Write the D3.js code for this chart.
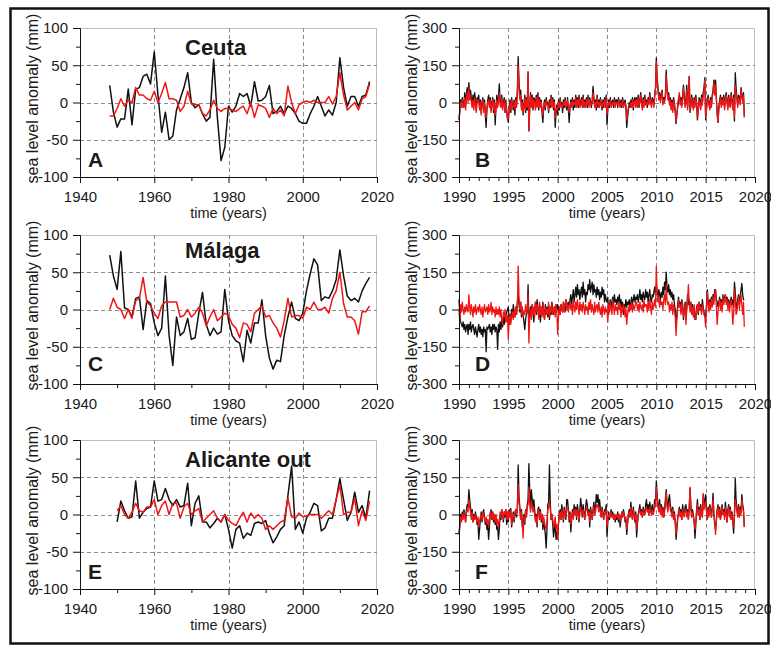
<!DOCTYPE html>
<html>
<head>
<meta charset="utf-8">
<script src="https://cdn.jsdelivr.net/npm/d3@7"></script>
<style>
body { margin: 0; background: #fff; }
svg text { font-family: "Liberation Sans", Arial, sans-serif; fill: #1a1a1a; }
</style>
</head>
<body>
<script>
// ---- annual anomalies (mm), black = observed, red = model ----
var ceutaStart = 1948, malagaStart = 1948, alicanteStart = 1950;

var ceutaAnnualBlack = [
	23, -13, -33, -22, -22, 18, -30, 18, 20, 35, 38, 25,
	68, 10, -40, -13, -50, -45, -10, 5, 20, 40,
	0, -7, -3, -15, -25, -20, 58, -20, -78, -60,
	-5, -13, -5, 12, 8, 12, -5, 28, 2, 3,
	8, 23, -15, -12, -5, -15, -5, -8, -15, -25,
	-28, -28, -15, -5, 8, -5, -18, -10, -17, 0,
	60, 20, -5, 8, 8, -5, 8, 10, 28
];
var ceutaAnnualRed = [
	-18, -18, -8, 5, -5, 3, 0, 20, 10, 10, 5, 3,
	15, 0, 12, 27, 5, 5, 3, -12, -5, 15,
	-2, -3, -3, -15, -18, -10, 3, -8, -12, -8,
	-8, -10, -12, -8, -5, -15, 0, -20, -3, -5,
	-8, -20, -8, -15, -10, -18, 22, 0, -15, -3,
	0, 2, 0, 3, 0, 0, 0, 8, -2, 8,
	40, 10, -10, -5, 0, -10, 5, 8, 25
];
var malagaAnnualBlack = [
	73, 45, 27, 78, 2, 0, -10, 15, 17, -27, 12, 8,
	-18, -35, -25, 45, -35, -75, -10, -35, -30, -12,
	-40, -38, -5, 23, -20, -35, -25, -33, -30, 27,
	-15, -35, -42, -45, -70, -28, -45, -18, -18, 13,
	-35, -65, -80, -68, -70, -35, -10, 10, -12, -15,
	-5, 25, 48, 68, 60, 12, 17, 15, 25, 40,
	80, 45, 18, 12, 15, 10, 25, 35, 43
];
var malagaAnnualRed = [
	0, 15, 3, 0, -12, 0, -12, 12, 15, 43, 10, 5,
	-5, -12, 5, 10, 10, 10, 10, -10, -8, 0,
	-10, -5, 3, -5, -22, -10, 0, -15, -10, -5,
	-8, -20, -25, -38, -18, -20, -30, -5, 0, 5,
	-10, -8, -18, -25, -37, -15, 15, -10, -8, -8,
	-12, 3, 0, 10, 0, 0, 3, -5, 15, 25,
	50, 8, -10, -10, -15, -33, -3, -3, 5
];
var alicanteAnnualBlack = [
	-10, 18, 5, -5, -3, 45, -5, 3, 8, 10,
	45, 18, 20, 35, 20, 12, 20, 10, 12, 42,
	-15, 15, 25, -10, -10, -18, -12, -5, -10, 0,
	-20, -45, -20, -15, -32, -25, -28, -12, -10, -12,
	-8, -25, -38, -30, -20, -15, 25, 65, -20, -10,
	-25, -5, 3, 15, 12, -22, -18, -5, -5, 20,
	48, 20, -8, 3, 30, 3, 12, -5, 32
];
var alicanteAnnualRed = [
	5, 12, 0, -5, 3, 15, 5, 3, 10, 10,
	20, 0, 12, 18, 0, 15, 15, -5, 10, 15,
	0, 5, 8, -10, -5, 0, 5, -5, -10, 0,
	-8, -12, -15, -5, 3, -10, 2, -5, 0, -5,
	-20, -15, -20, -15, -10, -8, 22, -3, -5, 2,
	-3, -2, 0, 0, 0, -5, 0, 5, 0, 20,
	40, 0, 3, 3, 22, -15, 5, -8, 18
];

// ---- monthly anomalies (mm), Jan 1990 .. Dec 2018, one row per year ----
var monthlyStart = 1990;

var ceutaMonthlyBlack = [
	-70,-30,10,-10,20,-20,0,40,-10,30,60,20,
	80,30,50,20,-10,30,0,40,10,-30,20,10,
	30,-20,10,-40,0,20,-30,10,-50,-100,-20,10,
	30,-10,20,-30,0,20,-40,10,-90,-20,30,-10,
	20,75,10,-10,30,-20,0,20,-40,10,-30,-60,
	-80,-20,10,-40,20,-10,-30,10,-50,20,-10,50,
	185,80,20,50,-20,10,-50,-10,30,-40,20,-30,
	120,-115,-20,40,-10,30,-30,20,10,-20,30,-10,
	40,-30,20,-10,10,-40,-80,-20,10,-30,20,0,
	0,-40,10,-20,30,-10,20,-30,10,-100,-40,-10,
	-50,10,-30,20,-10,0,-40,10,-20,20,-10,-30,
	20,-30,-80,-20,10,-10,20,-30,10,-20,30,-10,
	20,-20,30,-10,0,20,-10,30,-20,10,-10,20,
	-20,30,-10,20,0,-20,10,65,20,-10,10,-30,
	30,-20,10,-10,20,0,-30,10,-20,20,-10,30,
	-90,-30,10,-20,20,-10,0,10,-20,20,-10,10,
	10,-20,20,0,-10,10,-20,20,-10,0,10,-20,
	-100,-60,-30,0,-20,10,-10,20,-30,10,20,-10,
	20,-10,30,-20,10,40,0,-20,20,-10,30,0,
	10,-20,20,0,40,10,-10,20,10,-10,30,60,
	180,100,60,20,40,10,30,50,0,20,10,30,
	130,60,20,40,0,20,-20,10,-30,20,0,-40,
	-85,-50,-20,10,30,0,20,-10,30,70,20,-10,
	10,70,-20,40,105,-40,-10,30,0,-20,20,-10,
	30,0,-70,-30,20,10,-20,30,0,40,60,100,
	-70,-20,10,30,0,-20,20,-10,30,50,90,40,
	90,20,-40,-80,-20,10,30,-10,20,0,30,-20,
	20,40,10,-20,30,0,-10,40,10,-20,30,-75,
	120,60,20,-10,30,20,0,60,30,10,40,-55
];
var ceutaMonthlyRed = [
	-70,-40,0,-20,10,-10,-20,20,-30,10,40,0,
	60,10,30,0,-20,10,-30,20,-10,-40,10,0,
	10,-30,0,-50,-10,10,-40,0,-30,-60,-30,0,
	10,-20,10,-40,-10,10,-30,0,-50,-30,10,-20,
	0,40,-10,-20,20,-30,-10,10,-40,0,-40,-70,
	-60,-30,0,-30,10,-20,-20,0,-30,10,-20,30,
	150,60,10,30,-30,0,-40,-20,20,-30,10,-20,
	125,-110,-30,30,-20,20,-20,10,0,-30,20,-20,
	30,-20,10,-20,0,-30,-50,-10,0,-20,10,-10,
	-10,-30,0,-10,20,-20,10,-20,0,-60,-30,-20,
	-30,0,-20,10,-20,-10,-20,0,-10,10,-20,-10,
	10,-20,-40,-10,0,-20,10,-10,0,-10,20,-20,
	10,-10,20,-20,-10,10,-20,20,-10,0,-20,10,
	-10,20,-20,10,-10,-10,0,40,10,-20,0,-20,
	20,-10,0,-20,10,-10,-20,0,-10,10,-20,20,
	-50,-20,0,-10,10,-20,-10,0,-10,10,-20,0,
	0,-10,10,-10,-20,0,-10,10,-20,-10,0,-10,
	-70,-40,-20,-10,-10,0,-20,10,-20,0,10,-20,
	10,-20,20,-10,0,30,-10,-30,10,-20,20,-10,
	0,-10,10,-10,30,0,-20,10,0,-20,20,50,
	165,80,50,10,30,0,20,40,-10,10,0,20,
	110,50,10,30,-10,10,-30,0,-40,10,-10,-30,
	-80,-40,-10,20,40,-10,10,-20,20,60,10,-20,
	0,50,-30,30,105,-30,-20,20,-10,-30,10,-20,
	20,-10,-60,-40,10,0,-30,20,-10,30,50,90,
	-60,-30,0,20,-10,-30,10,-20,20,40,80,30,
	70,10,-50,-80,-30,0,20,-20,10,-10,20,-30,
	10,30,0,-30,20,-10,-20,30,0,-30,20,-60,
	70,40,10,-20,20,10,-10,50,20,0,30,-60
];
var malagaMonthlyBlack = [
	40,-20,-50,-60,-70,-50,-80,-60,-90,-70,-60,-100,
	-60,-80,-50,-90,-70,-60,-80,-100,-70,-90,-110,-80,
	-60,-90,-70,-100,-80,-110,-70,-90,-80,-170,-70,-80,
	-70,-60,-90,-70,-100,-60,-80,-60,-90,-70,-80,-160,
	-60,-90,-50,-80,-40,-70,-30,-60,-20,-50,-10,0,
	10,-60,-20,-40,0,-30,20,-10,-30,10,-20,30,
	60,20,-10,30,-30,0,-20,-50,-80,-40,-20,-10,
	100,-40,-20,10,-30,20,-10,-50,0,30,-20,40,
	0,-30,20,-50,10,-20,30,-10,-40,20,-20,10,
	-30,20,-40,10,-20,30,0,-20,10,-10,20,0,
	20,-10,10,-20,20,0,-10,30,10,-10,40,10,
	20,30,10,40,60,20,50,80,30,60,90,50,
	100,60,80,40,70,90,50,110,60,80,30,70,
	60,100,80,120,70,90,110,60,100,70,80,50,
	90,60,80,40,70,50,90,60,80,30,60,40,
	30,50,-20,20,40,10,30,50,20,60,30,40,
	20,50,30,60,20,40,10,30,-20,20,10,40,
	10,30,20,40,0,30,50,20,40,60,30,50,
	40,60,30,50,80,40,60,30,70,50,40,80,
	50,70,30,60,80,40,30,60,50,70,90,60,
	100,70,50,80,60,40,70,50,90,60,110,80,
	150,90,70,100,60,80,50,70,40,60,20,0,
	-60,-20,20,50,10,30,-10,40,20,-40,0,30,
	-40,10,60,20,40,0,30,-10,20,-20,10,-40,
	-40,10,20,-20,30,0,20,-10,40,10,-10,-30,
	-30,20,80,30,0,40,10,50,20,60,40,80,
	80,40,30,10,30,50,20,40,10,60,30,50,
	60,30,50,20,40,10,30,50,20,40,10,110,
	70,20,0,40,60,20,50,80,105,60,40,40
];
var malagaMonthlyRed = [
	0,-50,20,-10,30,0,-20,10,-10,20,0,-10,
	60,10,-20,20,0,-30,10,-10,20,-20,0,10,
	-10,20,0,-20,10,-30,0,20,-10,0,10,-20,
	20,-10,0,30,-20,10,-10,0,-30,10,-20,0,
	-20,10,-30,0,-40,-60,-10,-30,0,-50,-20,-30,
	-120,-40,-20,-60,-30,-10,-40,0,-30,10,-20,20,
	175,50,0,30,-20,10,-30,-10,-20,20,-10,0,
	60,-135,-30,0,-40,20,-20,10,-30,30,-10,20,
	0,-40,30,-20,10,-30,20,-10,-40,10,-20,0,
	-20,30,-30,10,-10,20,-20,0,10,-30,20,-10,
	-100,-30,10,-20,20,0,-10,30,-10,20,40,0,
	20,-10,10,30,0,20,-20,40,10,-10,30,0,
	40,10,-20,30,0,20,-10,30,10,-20,20,0,
	10,-20,30,0,40,-10,20,0,-20,30,-10,10,
	20,-10,30,0,-20,10,-30,20,0,-20,10,-10,
	0,-50,20,-10,30,0,-20,40,10,-20,20,0,
	10,-20,30,0,20,-30,10,-10,20,0,-30,10,
	-60,-20,10,-10,20,0,30,-10,20,0,10,30,
	30,0,20,-10,30,10,0,20,-10,40,10,20,
	20,-10,30,0,40,10,-20,30,0,20,40,10,
	175,60,30,50,10,40,20,30,0,40,60,20,
	100,40,20,30,-10,20,0,30,-20,20,0,-30,
	-105,-40,0,40,10,20,-20,30,10,-30,0,20,
	-60,0,40,100,20,-10,30,-20,10,-30,20,-20,
	-40,0,20,-10,30,0,10,-20,20,0,-20,-30,
	-70,0,70,20,-10,30,0,40,10,50,20,60,
	80,10,-60,-10,20,40,0,30,-10,50,20,40,
	60,20,40,0,30,-10,20,40,10,-60,-20,80,
	40,-20,-10,30,50,0,40,60,20,-20,30,-70
];
var alicanteMonthlyBlack = [
	-80,-40,0,-20,10,-10,20,0,-30,20,40,30,
	100,60,30,-10,20,-30,0,-20,10,-10,-40,-20,
	-100,-60,-20,10,-30,0,20,-10,-40,-20,-60,-40,
	-100,-50,0,20,-20,10,-30,0,-40,-10,-60,-50,
	-100,-60,0,-20,20,0,-30,10,-10,20,-40,0,
	-30,20,0,25,-50,-20,10,-30,0,20,-10,30,
	200,70,30,-20,20,-50,-30,0,-40,20,-10,40,
	60,205,100,40,100,60,30,60,20,-20,0,-50,
	20,30,-10,20,-30,0,-60,-20,-50,-80,-135,-60,
	40,50,200,50,-20,0,-40,-90,-60,-30,-100,-70,
	-100,-40,0,20,-20,40,10,-30,30,0,-20,60,
	60,20,-30,10,-70,-20,20,-10,40,0,30,-20,
	40,10,-30,20,65,30,-10,40,0,-20,30,60,
	40,0,20,-50,30,10,-20,20,50,0,30,80,
	50,80,30,60,20,-10,30,0,-20,20,10,40,
	-90,-30,10,-20,0,20,-10,10,-20,0,-30,-10,
	-20,10,-30,0,-50,-20,10,-10,20,0,-30,-20,
	-80,-40,0,20,-10,50,10,-20,30,0,-30,10,
	-90,-40,0,20,40,0,20,-10,30,10,0,40,
	60,20,40,0,50,20,10,40,0,20,60,50,
	135,80,40,20,60,10,40,0,30,-10,20,60,
	100,50,20,60,80,40,20,0,30,-20,10,-30,
	-100,-60,-20,10,30,0,20,-20,40,10,0,30,
	40,0,20,-20,30,106,40,-10,20,0,-30,-95,
	-40,20,60,0,30,-20,40,10,-10,80,30,60,
	80,20,-20,30,0,40,20,-10,30,85,0,-40,
	-60,-20,20,40,0,30,-20,10,40,0,20,-10,
	50,10,-30,20,40,0,30,-20,10,-30,-75,0,
	145,60,20,0,40,-10,30,10,80,40,20,-50
];
var alicanteMonthlyRed = [
	-80,-50,-10,-30,0,-20,10,-10,-30,10,20,10,
	60,30,10,-20,10,-30,-10,-20,0,-20,-30,-10,
	-50,-30,-10,0,-20,10,0,-20,-30,-10,-40,-20,
	-50,-20,10,0,-20,10,-20,0,-30,0,-40,-20,
	-50,-30,10,-10,20,0,-20,10,0,20,-20,10,
	-20,10,-10,20,-40,-10,0,-20,10,20,0,20,
	120,50,20,-20,10,-40,-95,-10,-30,20,-10,30,
	40,110,40,10,50,30,10,30,0,-30,-10,-40,
	10,20,-20,10,-20,0,-40,-10,-30,-50,-60,-30,
	20,30,50,20,-20,0,-20,-50,-30,-10,-60,-40,
	-100,-30,0,10,-20,20,0,-20,20,0,-10,30,
	30,10,-20,0,-40,-10,10,-20,20,0,20,-10,
	20,0,-20,10,30,10,-10,20,0,-20,10,30,
	20,0,10,-30,20,0,-20,10,30,0,10,40,
	30,40,10,30,10,-10,20,0,-20,10,0,20,
	-50,-20,0,-10,0,10,-10,0,-20,0,-20,0,
	-10,0,-20,0,-30,-10,10,-10,10,0,-20,-10,
	-60,-30,0,10,-10,30,0,-20,20,0,-20,0,
	-60,-30,0,10,20,0,10,-10,20,0,0,20,
	30,10,20,0,30,10,0,20,0,10,40,30,
	110,60,30,10,40,0,30,-10,20,-10,10,40,
	90,30,10,40,50,20,10,-10,20,-20,0,-30,
	-80,-40,-10,0,20,-10,10,-20,20,0,-10,20,
	20,-10,10,-20,20,110,20,-10,10,-10,-30,-60,
	-30,10,40,0,20,-20,30,0,-10,85,20,40,
	50,10,-20,20,-10,30,10,-10,20,60,0,-30,
	-80,-30,10,30,-10,20,-20,0,30,0,10,-20,
	30,0,-30,10,30,-10,20,-20,0,-30,-50,0,
	60,40,10,-10,30,-10,20,0,60,30,10,-50
];

// ---- axis ticks ----
var annualXMajor = [1940, 1960, 1980, 2000, 2020];
var annualXMinor = [1950, 1970, 1990, 2010];
var annualYMajor = [-100, -50, 0, 50, 100];
var annualYMinor = [-75, -25, 25, 75];
var monthlyXMajor = [1990, 1995, 2000, 2005, 2010, 2015, 2020];
var monthlyXMinor = d3.range(1991, 2020).filter(function(d) { return d % 5 != 0; });
var monthlyYMajor = [-300, -150, 0, 150, 300];
var monthlyYMinor = [-225, -75, 75, 225];

var stations = ["Ceuta", "Málaga", "Alicante out"];
var letters = [["A", "B"], ["C", "D"], ["E", "F"]];

// ---- layout ----
var W = 771, H = 646;
var colLeft = [80, 459], colWidth = [297, 296];
var rowTop = [28, 235, 440], plotH = 149;
var titleDy = [27, 23, 27], letterDy = [10, 13, 10];

var svg = d3.select("body").append("svg")
	.attr("width", W)
	.attr("height", H);

svg.append("rect")
	.attr("width", W).attr("height", H)
	.attr("fill", "#fff");

// cuadro exterior
svg.append("rect")
	.attr("x", 10.5).attr("y", 8.5)
	.attr("width", 758).attr("height", 635)
	.attr("fill", "none")
	.attr("stroke", "#111")
	.attr("stroke-width", 2.5);

var annualCfg = {
	xDomain: [1940, 2020], yDomain: [-100, 100],
	xMajor: annualXMajor, xMinor: annualXMinor,
	yMajor: annualYMajor, yMinor: annualYMinor,
	xGrid: [1960, 1980, 2000], yGrid: [-50, 0, 50]
};
var monthlyCfg = {
	xDomain: [1990, 2020], yDomain: [-300, 300],
	xMajor: monthlyXMajor, xMinor: monthlyXMinor,
	yMajor: monthlyYMajor, yMinor: monthlyYMinor,
	xGrid: [1995, 2000, 2005, 2010, 2015], yGrid: [-150, 0, 150]
};

var panels = [
	{ row: 0, col: 0, cfg: annualCfg, t0: ceutaStart, step: 1, black: ceutaAnnualBlack, red: ceutaAnnualRed },
	{ row: 0, col: 1, cfg: monthlyCfg, t0: monthlyStart, step: 1 / 12, black: ceutaMonthlyBlack, red: ceutaMonthlyRed },
	{ row: 1, col: 0, cfg: annualCfg, t0: malagaStart, step: 1, black: malagaAnnualBlack, red: malagaAnnualRed },
	{ row: 1, col: 1, cfg: monthlyCfg, t0: monthlyStart, step: 1 / 12, black: malagaMonthlyBlack, red: malagaMonthlyRed },
	{ row: 2, col: 0, cfg: annualCfg, t0: alicanteStart, step: 1, black: alicanteAnnualBlack, red: alicanteAnnualRed },
	{ row: 2, col: 1, cfg: monthlyCfg, t0: monthlyStart, step: 1 / 12, black: alicanteMonthlyBlack, red: alicanteMonthlyRed }
];

function fmt(d) { return String(d); }

function styleAxis(a) {
	a.attr("font-size", null).attr("font-family", null);
	a.select(".domain").attr("stroke", "#111").attr("stroke-width", 1);
	a.selectAll(".tick line").attr("stroke", "#111").attr("stroke-width", 1);
	a.selectAll(".tick text").style("font-size", "15px").attr("fill", "#1a1a1a");
}

function drawPanel(p) {
	var cfg = p.cfg;
	var left = colLeft[p.col], top = rowTop[p.row];
	var w = colWidth[p.col], h = plotH;

	var x = d3.scaleLinear().domain(cfg.xDomain).range([0, w]);
	var y = d3.scaleLinear().domain(cfg.yDomain).range([h, 0]);

	var g = svg.append("g")
		.attr("transform", "translate(" + left + "," + top + ")");

	// marco gris arriba y derecha
	g.append("path")
		.attr("d", "M0,0.5H" + (w - 0.5) + "V" + h)
		.attr("fill", "none")
		.attr("stroke", "#bdbdbd");

	// rejilla
	g.selectAll(".gx").data(cfg.xGrid).enter().append("line")
		.attr("x1", function(d) { return Math.round(x(d)) + 0.5; })
		.attr("x2", function(d) { return Math.round(x(d)) + 0.5; })
		.attr("y1", 0).attr("y2", h)
		.attr("stroke", "#8c8c8c").attr("stroke-dasharray", "4,3");
	g.selectAll(".gy").data(cfg.yGrid).enter().append("line")
		.attr("y1", function(d) { return Math.round(y(d)) + 0.5; })
		.attr("y2", function(d) { return Math.round(y(d)) + 0.5; })
		.attr("x1", 0).attr("x2", w)
		.attr("stroke", "#8c8c8c").attr("stroke-dasharray", "4,3");

	// series
	var line = d3.line()
		.x(function(d, i) { return x(p.t0 + i * p.step); })
		.y(function(d) { return y(d); });

	var lw = p.step == 1 ? 1.5 : 1.3;
	g.append("path").datum(p.black)
		.attr("d", line)
		.attr("fill", "none").attr("stroke", "#111")
		.attr("stroke-width", lw).attr("stroke-linejoin", "round");
	g.append("path").datum(p.red)
		.attr("d", line)
		.attr("fill", "none").attr("stroke", "#f01515")
		.attr("stroke-width", lw).attr("stroke-linejoin", "round");

	// ejes
	var xMin = g.append("g").attr("transform", "translate(0," + h + ")")
		.call(d3.axisBottom(x).tickValues(cfg.xMinor).tickSize(4).tickSizeOuter(0).tickFormat(""));
	styleAxis(xMin);
	var xAx = g.append("g").attr("transform", "translate(0," + h + ")")
		.call(d3.axisBottom(x).tickValues(cfg.xMajor).tickSize(6).tickSizeOuter(0).tickPadding(8).tickFormat(fmt));
	styleAxis(xAx);

	var yMin = g.append("g")
		.call(d3.axisLeft(y).tickValues(cfg.yMinor).tickSize(4).tickSizeOuter(0).tickFormat(""));
	styleAxis(yMin);
	var yAx = g.append("g")
		.call(d3.axisLeft(y).tickValues(cfg.yMajor).tickSize(7).tickSizeOuter(0).tickPadding(5).tickFormat(fmt));
	styleAxis(yAx);

	// etiquetas de ejes
	g.append("text")
		.attr("x", w / 2).attr("y", h + 41)
		.attr("text-anchor", "middle")
		.style("font-size", "14.5px")
		.text("time (years)");
	g.append("text")
		.attr("transform", "translate(" + (-48) + "," + (h / 2 - 4) + ") rotate(-90)")
		.attr("text-anchor", "middle")
		.attr("dy", "0.35em")
		.style("font-size", "16px")
		.text("sea level anomaly (mm)");

	// letra del panel
	g.append("text")
		.attr("x", p.col == 0 ? 8 : 16)
		.attr("y", h - letterDy[p.row])
		.style("font-size", "21px").style("font-weight", "bold")
		.attr("fill", "#111")
		.text(letters[p.row][p.col]);

	// nombre de la estacion
	if (p.col == 0) {
		g.append("text")
			.attr("x", 105).attr("y", titleDy[p.row])
			.style("font-size", "22px").style("font-weight", "bold")
			.attr("fill", "#111")
			.text(stations[p.row]);
	}
}

panels.forEach(drawPanel);
</script>
</body>
</html>
